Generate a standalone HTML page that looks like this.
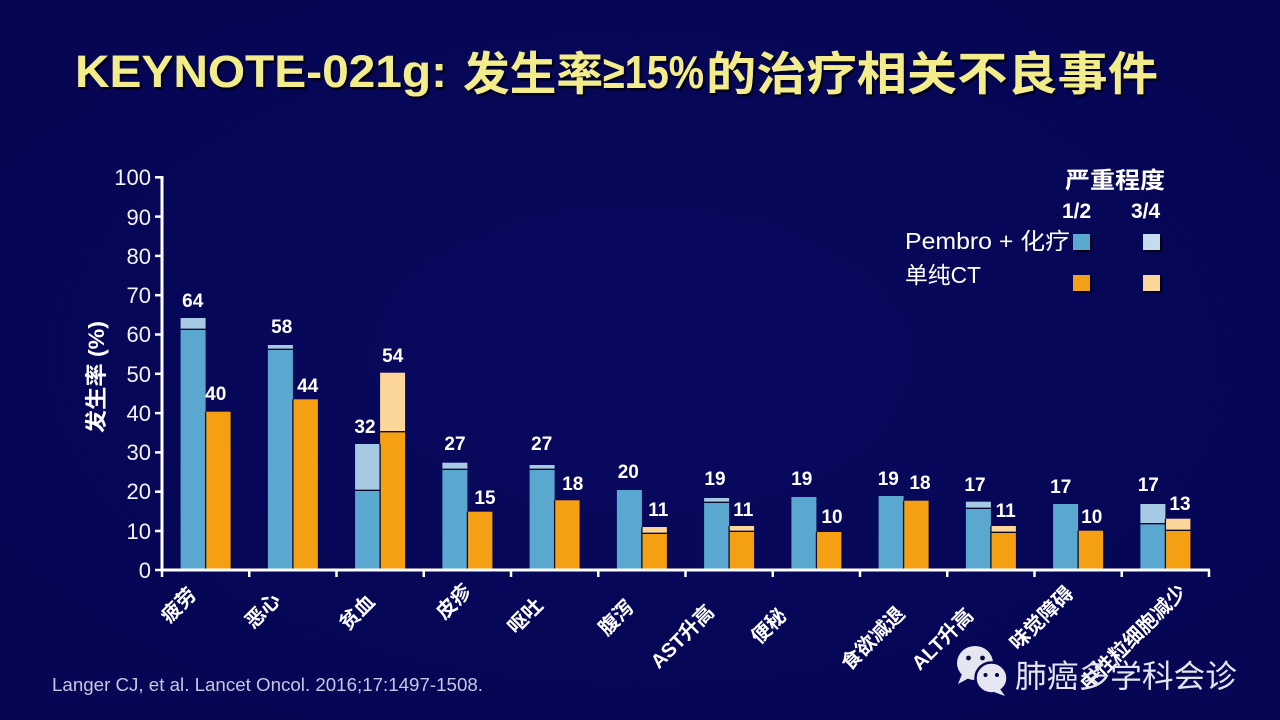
<!DOCTYPE html>
<html><head><meta charset="utf-8"><style>
html,body{margin:0;padding:0;background:#07075a;}
svg{display:block}
.cj{font-family:"Liberation Sans","Noto Sans CJK SC",sans-serif;}
</style></head><body>
<svg width="1280" height="720" viewBox="0 0 1280 720" xmlns="http://www.w3.org/2000/svg" class="cj">
<defs>
<radialGradient id="bg" cx="50%" cy="50%" r="75%">
<stop offset="0" stop-color="#09095f"/>
<stop offset="1" stop-color="#050552"/>
</radialGradient>
<filter id="sh" x="-5%" y="-20%" width="110%" height="150%">
<feDropShadow dx="2" dy="2.5" stdDeviation="0.8" flood-color="#000010" flood-opacity="0.9"/>
</filter>
<filter id="sq" x="-30%" y="-30%" width="170%" height="170%">
<feDropShadow dx="2" dy="2" stdDeviation="0.6" flood-color="#000010" flood-opacity="0.9"/>
</filter>
</defs>
<rect width="1280" height="720" fill="url(#bg)"/>

<!-- Title -->
<g filter="url(#sh)" fill="#f3ec8a" font-weight="700">
<text x="75" y="87" font-size="45" textLength="372" lengthAdjust="spacingAndGlyphs" font-family="Liberation Sans, sans-serif">KEYNOTE-021g:</text>
<text x="463" y="90" font-size="46" textLength="140" lengthAdjust="spacingAndGlyphs" font-family="Liberation Sans, Noto Sans CJK SC, sans-serif">发生率</text>
<text x="603" y="88" font-size="46" textLength="101" lengthAdjust="spacingAndGlyphs" font-family="Liberation Sans, sans-serif">≥15%</text>
<text x="706" y="90" font-size="46" textLength="452" lengthAdjust="spacingAndGlyphs" font-family="Liberation Sans, Noto Sans CJK SC, sans-serif">的治疗相关不良事件</text>
</g>

<!-- Y axis title -->
<text transform="translate(104,377) rotate(-90)" text-anchor="middle" font-size="22" font-weight="700" fill="#ffffff" textLength="112" lengthAdjust="spacingAndGlyphs">发生率 (%)</text>

<!-- Y tick labels -->
<g font-size="22" fill="#f4f4f8" text-anchor="end" font-family="Liberation Sans, sans-serif">
<text x="151" y="185">100</text>
<text x="151" y="225">90</text>
<text x="151" y="264">80</text>
<text x="151" y="303">70</text>
<text x="151" y="342">60</text>
<text x="151" y="382">50</text>
<text x="151" y="421">40</text>
<text x="151" y="460">30</text>
<text x="151" y="499">20</text>
<text x="151" y="539">10</text>
<text x="151" y="578">0</text>
</g>

<!-- Bars -->
<g>
<rect x="180.6" y="318" width="25" height="11.3" fill="#a6c9e4"/>
<rect x="180.6" y="329.3" width="25" height="240.7" fill="#5aa8d0"/>
<rect x="205.6" y="411.7" width="25" height="158.3" fill="#f4a012"/>
<rect x="267.9" y="345" width="25" height="4.3" fill="#a6c9e4"/>
<rect x="267.9" y="349.3" width="25" height="220.7" fill="#5aa8d0"/>
<rect x="292.9" y="399.3" width="25" height="170.7" fill="#f4a012"/>
<rect x="355.1" y="444" width="25" height="46.3" fill="#a6c9e4"/>
<rect x="355.1" y="490.3" width="25" height="79.7" fill="#5aa8d0"/>
<rect x="380.1" y="372.7" width="25" height="59" fill="#fcd699"/>
<rect x="380.1" y="431.7" width="25" height="138.3" fill="#f4a012"/>
<rect x="442.4" y="462.7" width="25" height="6.6" fill="#a6c9e4"/>
<rect x="442.4" y="469.3" width="25" height="100.7" fill="#5aa8d0"/>
<rect x="467.4" y="511.7" width="25" height="58.3" fill="#f4a012"/>
<rect x="529.6" y="465" width="25" height="4.3" fill="#a6c9e4"/>
<rect x="529.6" y="469.3" width="25" height="100.7" fill="#5aa8d0"/>
<rect x="554.6" y="500.3" width="25" height="69.7" fill="#f4a012"/>
<rect x="616.9" y="490" width="25" height="80" fill="#5aa8d0"/>
<rect x="641.9" y="527" width="25" height="6.3" fill="#fcd699"/>
<rect x="641.9" y="533.3" width="25" height="36.7" fill="#f4a012"/>
<rect x="704.1" y="498" width="25" height="4.3" fill="#a6c9e4"/>
<rect x="704.1" y="502.3" width="25" height="67.7" fill="#5aa8d0"/>
<rect x="729.1" y="526" width="25" height="5.3" fill="#fcd699"/>
<rect x="729.1" y="531.3" width="25" height="38.7" fill="#f4a012"/>
<rect x="791.4" y="497" width="25" height="73" fill="#5aa8d0"/>
<rect x="816.4" y="532" width="25" height="38" fill="#f4a012"/>
<rect x="878.6" y="496" width="25" height="74" fill="#5aa8d0"/>
<rect x="903.6" y="500.7" width="25" height="69.3" fill="#f4a012"/>
<rect x="965.9" y="501.7" width="25" height="6.6" fill="#a6c9e4"/>
<rect x="965.9" y="508.3" width="25" height="61.7" fill="#5aa8d0"/>
<rect x="990.9" y="526" width="25" height="6.3" fill="#fcd699"/>
<rect x="990.9" y="532.3" width="25" height="37.7" fill="#f4a012"/>
<rect x="1053.1" y="504" width="25" height="66" fill="#5aa8d0"/>
<rect x="1078.1" y="530.7" width="25" height="39.3" fill="#f4a012"/>
<rect x="1140.4" y="504" width="25" height="19.7" fill="#a6c9e4"/>
<rect x="1140.4" y="523.7" width="25" height="46.3" fill="#5aa8d0"/>
<rect x="1165.4" y="518.7" width="25" height="11.6" fill="#fcd699"/>
<rect x="1165.4" y="530.3" width="25" height="39.7" fill="#f4a012"/>
</g>

<!-- division / separator lines -->
<g stroke="#0a0a2e" stroke-width="1.3">
<line x1="180.6" y1="329.3" x2="205.6" y2="329.3"/>
<line x1="267.9" y1="349.3" x2="292.9" y2="349.3"/>
<line x1="355.1" y1="490.3" x2="380.1" y2="490.3"/>
<line x1="380.1" y1="431.7" x2="405.1" y2="431.7"/>
<line x1="442.4" y1="469.3" x2="467.4" y2="469.3"/>
<line x1="529.6" y1="469.3" x2="554.6" y2="469.3"/>
<line x1="641.9" y1="533.3" x2="666.9" y2="533.3"/>
<line x1="704.1" y1="502.3" x2="729.1" y2="502.3"/>
<line x1="729.1" y1="531.3" x2="754.1" y2="531.3"/>
<line x1="965.9" y1="508.3" x2="990.9" y2="508.3"/>
<line x1="990.9" y1="532.3" x2="1015.9" y2="532.3"/>
<line x1="1140.4" y1="523.7" x2="1165.4" y2="523.7"/>
<line x1="1165.4" y1="530.3" x2="1190.4" y2="530.3"/>
<line x1="205.6" y1="411.7" x2="205.6" y2="570"/>
<line x1="292.9" y1="399.3" x2="292.9" y2="570"/>
<line x1="380.1" y1="444" x2="380.1" y2="570"/>
<line x1="467.4" y1="511.7" x2="467.4" y2="570"/>
<line x1="554.6" y1="500.3" x2="554.6" y2="570"/>
<line x1="641.9" y1="527" x2="641.9" y2="570"/>
<line x1="729.1" y1="526" x2="729.1" y2="570"/>
<line x1="816.4" y1="532" x2="816.4" y2="570"/>
<line x1="903.6" y1="500.7" x2="903.6" y2="570"/>
<line x1="990.9" y1="526" x2="990.9" y2="570"/>
<line x1="1078.1" y1="530.7" x2="1078.1" y2="570"/>
<line x1="1165.4" y1="518.7" x2="1165.4" y2="570"/>
</g>

<!-- Axes -->
<g stroke="#ffffff" stroke-width="3" fill="none">
<line x1="162" y1="176" x2="162" y2="571.5"/>
<line x1="160.5" y1="570" x2="1210" y2="570"/>
</g>
<g stroke="#ffffff" stroke-width="2.5">
<line x1="155" y1="177.3" x2="162" y2="177.3"/>
<line x1="155" y1="216.6" x2="162" y2="216.6"/>
<line x1="155" y1="255.9" x2="162" y2="255.9"/>
<line x1="155" y1="295.2" x2="162" y2="295.2"/>
<line x1="155" y1="334.5" x2="162" y2="334.5"/>
<line x1="155" y1="373.8" x2="162" y2="373.8"/>
<line x1="155" y1="413.1" x2="162" y2="413.1"/>
<line x1="155" y1="452.4" x2="162" y2="452.4"/>
<line x1="155" y1="491.7" x2="162" y2="491.7"/>
<line x1="155" y1="531" x2="162" y2="531"/>
<line x1="155" y1="570" x2="162" y2="570"/>
<line x1="162" y1="570" x2="162" y2="577"/>
<line x1="249.25" y1="570" x2="249.25" y2="577"/>
<line x1="336.5" y1="570" x2="336.5" y2="577"/>
<line x1="423.75" y1="570" x2="423.75" y2="577"/>
<line x1="511" y1="570" x2="511" y2="577"/>
<line x1="598.25" y1="570" x2="598.25" y2="577"/>
<line x1="685.5" y1="570" x2="685.5" y2="577"/>
<line x1="772.75" y1="570" x2="772.75" y2="577"/>
<line x1="860" y1="570" x2="860" y2="577"/>
<line x1="947.25" y1="570" x2="947.25" y2="577"/>
<line x1="1034.5" y1="570" x2="1034.5" y2="577"/>
<line x1="1121.75" y1="570" x2="1121.75" y2="577"/>
<line x1="1209" y1="570" x2="1209" y2="577"/>
</g>

<!-- Data labels -->
<g font-size="19" font-weight="700" fill="#ffffff" text-anchor="middle" font-family="Liberation Sans, sans-serif">
<text x="192.7" y="307">64</text>
<text x="215.7" y="400">40</text>
<text x="281.7" y="333">58</text>
<text x="307.7" y="392">44</text>
<text x="365" y="433">32</text>
<text x="392.7" y="362">54</text>
<text x="455" y="450">27</text>
<text x="485" y="504">15</text>
<text x="541.7" y="450">27</text>
<text x="572.7" y="490">18</text>
<text x="628.3" y="478">20</text>
<text x="658.3" y="516">11</text>
<text x="715" y="485">19</text>
<text x="743.3" y="516">11</text>
<text x="801.7" y="485">19</text>
<text x="832" y="523">10</text>
<text x="888.3" y="485">19</text>
<text x="920" y="489">18</text>
<text x="975" y="491">17</text>
<text x="1005.7" y="517">11</text>
<text x="1060.7" y="493">17</text>
<text x="1091.7" y="523">10</text>
<text x="1148.3" y="491">17</text>
<text x="1180" y="510">13</text>
</g>

<!-- X labels -->
<g font-size="20" font-weight="700" fill="#ffffff" text-anchor="end">
<text transform="translate(197.6,596) rotate(-45)">疲劳</text>
<text transform="translate(281.6,601.3) rotate(-45)">恶心</text>
<text transform="translate(376.2,603.1) rotate(-45)">贫血</text>
<text transform="translate(472.6,592.4) rotate(-45)">皮疹</text>
<text transform="translate(544.1,606.7) rotate(-45)">呕吐</text>
<text transform="translate(635.1,608.5) rotate(-45)">腹泻</text>
<text transform="translate(715.4,613.2) rotate(-45)">AST升高</text>
<text transform="translate(787.6,616.9) rotate(-45)">便秘</text>
<text transform="translate(906.1,615) rotate(-45)">食欲减退</text>
<text transform="translate(974.6,616.7) rotate(-45)">ALT升高</text>
<text transform="translate(1074.6,594.7) rotate(-45)">味觉障碍</text>
<text transform="translate(1187.6,592.7) rotate(-45)">中性粒细胞减少</text>
</g>

<!-- Legend -->
<g fill="#ffffff">
<text x="1065" y="188" font-size="23" font-weight="700" textLength="100" lengthAdjust="spacingAndGlyphs">严重程度</text>
<text x="1062" y="218" font-size="21" font-weight="700" font-family="Liberation Sans, sans-serif">1/2</text>
<text x="1131" y="218" font-size="21" font-weight="700" font-family="Liberation Sans, sans-serif">3/4</text>
<text x="905" y="249" font-size="23" textLength="165" lengthAdjust="spacingAndGlyphs">Pembro + 化疗</text>
<text x="905" y="283" font-size="23" textLength="76" lengthAdjust="spacingAndGlyphs">单纯CT</text>
</g>
<g filter="url(#sq)">
<rect x="1073" y="234" width="17" height="16" fill="#5aa8d0"/>
<rect x="1143" y="234" width="17" height="16" fill="#c4dcf0"/>
<rect x="1073" y="275" width="17" height="16" fill="#f4a012"/>
<rect x="1143" y="275" width="17" height="16" fill="#fcd699"/>
</g>

<!-- Citation -->
<text x="52" y="691" font-size="18.5" fill="#c6c6e4" font-family="Liberation Sans, sans-serif" textLength="431" lengthAdjust="spacingAndGlyphs">Langer CJ, et al. Lancet Oncol. 2016;17:1497-1508.</text>

<!-- Watermark -->
<g>
<ellipse cx="975" cy="663" rx="18" ry="17" fill="#e6e6f0"/>
<path d="M962 674 L958 684 L969 678 Z" fill="#e6e6f0"/>
<ellipse cx="991.5" cy="678" rx="16" ry="15.5" fill="#e6e6f0" stroke="#07075a" stroke-width="2.5"/>
<path d="M1000 689 L1005 696 L994 692 Z" fill="#e6e6f0"/>
<circle cx="968.5" cy="658" r="2.4" fill="#0a0a40"/>
<circle cx="982.5" cy="658" r="2.4" fill="#0a0a40"/>
<circle cx="985.5" cy="675" r="2" fill="#0a0a40"/>
<circle cx="997" cy="675" r="2" fill="#0a0a40"/>
<text x="1015" y="687" font-size="31.5" fill="#e4e4ee" textLength="222" lengthAdjust="spacingAndGlyphs">肺癌多学科会诊</text>
</g>
</svg>
</body></html>
